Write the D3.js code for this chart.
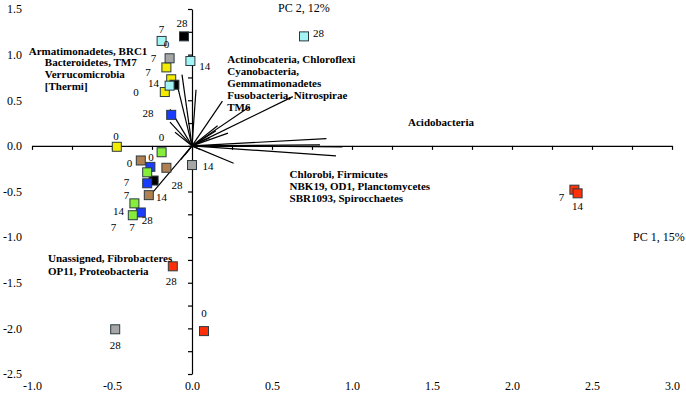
<!DOCTYPE html>
<html>
<head>
<meta charset="utf-8">
<script src="https://cdn.jsdelivr.net/npm/d3@7"></script>
<style>
  body { margin: 0; background: #fff; }
  text { font-family: "Liberation Serif", "Times New Roman", serif; }
</style>
</head>
<body>
<script>
// PCA biplot: samples (days) by treatment colour, phylum loadings as vectors

const w = 686;
const h = 397;

// axis ticks
const xTicks = [-1.0, -0.5, 0.0, 0.5, 1.0, 1.5, 2.0, 2.5, 3.0];
const yTicks = [1.5, 1.0, 0.5, 0.0, -0.5, -1.0, -1.5, -2.0, -2.5];

// sample scores per treatment [PC1, PC2]
const cyanPts   = [[-0.19, 1.15], [-0.01, 0.93], [-0.14, 0.66], [0.70, 1.20]];
const yellowPts = [[-0.16, 0.86], [-0.13, 0.73], [-0.17, 0.59], [-0.47, -0.01]];
const blackPts  = [[-0.05, 1.20], [-0.11, 0.67], [-0.24, -0.38]];
const grayPts   = [[-0.14, 0.96], [0.0, -0.21], [-0.48, -2.01]];
const brownPts  = [[-0.32, -0.16], [-0.16, -0.24], [-0.27, -0.54]];
const bluePts   = [[-0.13, 0.34], [-0.26, -0.23], [-0.28, -0.41], [-0.32, -0.73]];
const greenPts  = [[-0.19, -0.07], [-0.28, -0.29], [-0.36, -0.63], [-0.37, -0.76]];
const redPts    = [[-0.12, -1.32], [0.075, -2.03], [2.39, -0.48], [2.41, -0.52]];

// day labels [text, PC1, PC2]
const dayLabels = [
  ["28", -0.0625, 1.34], ["7", -0.19, 1.275], ["0", -0.16, 1.12],
  ["7", -0.24, 0.96], ["14", 0.08, 0.87], ["7", -0.275, 0.81],
  ["14", -0.24, 0.69], ["0", -0.35, 0.59], ["28", -0.275, 0.36],
  ["28", 0.79, 1.24], ["0", -0.475, 0.11], ["0", -0.19, 0.10],
  ["0", -0.256, -0.12], ["0", -0.39, -0.19], ["14", 0.10, -0.22],
  ["7", -0.41, -0.40], ["28", -0.094, -0.43], ["7", -0.41, -0.54],
  ["14", -0.19, -0.56], ["14", -0.46, -0.71], ["28", -0.28, -0.81],
  ["7", -0.49, -0.89], ["7", -0.375, -0.89], ["28", -0.13, -1.48],
  ["28", -0.48, -2.18], ["0", 0.075, -1.835], ["7", 2.31, -0.56],
  ["14", 2.41, -0.66]
];

// phylum loading vectors (end points)
const loadings = [
  [-0.0625, 0.78], [-0.094, 0.68], [0.025, 0.615], [-0.1375, 0.40],
  [-0.1375, 0.26], [-0.106, 0.15], [0.19, 0.49], [0.36, 0.43],
  [0.63, 0.54], [0.16, 0.22], [0.15, 0.165], [0.225, 0.14],
  [0.11, 0.09], [0.84, 0.08], [0.80, 0.01], [0.94, -0.01],
  [0.90, -0.11], [0.26, -0.19], [-0.26, -0.54], [-0.044, -0.10],
  [-0.07, -0.15], [0.05, -0.04]
];

// phylum group labels [text, PC1, PC2]
const phylaLabels = [
  ["Armatimonadetes, BRC1", -1.02, 1.00],
  ["Bacteroidetes, TM7", -0.92, 0.87],
  ["Verrucomicrobia", -0.92, 0.74],
  ["[Thermi]", -0.92, 0.61],
  ["Actinobcateria, Chloroflexi", 0.22, 0.91],
  ["Cyanobacteria,", 0.22, 0.78],
  ["Gemmatimonadetes", 0.22, 0.65],
  ["Fusobacteria, Nitrospirae", 0.22, 0.51],
  ["TM6", 0.22, 0.385],
  ["Acidobacteria", 1.35, 0.22],
  ["Chlorobi, Firmicutes", 0.61, -0.35],
  ["NBK19, OD1, Planctomycetes", 0.61, -0.485],
  ["SBR1093, Spirocchaetes", 0.61, -0.62],
  ["Unassigned, Fibrobacteres", -0.90, -1.27],
  ["OP11, Proteobacteria", -0.90, -1.415]
];

const series = [
  { pts: yellowPts, fill: "#f4ec00" },
  { pts: blackPts,  fill: "#000000" },
  { pts: grayPts,   fill: "#a6a6a6" },
  { pts: brownPts,  fill: "#b08050" },
  { pts: bluePts,   fill: "#1a3cff" },
  { pts: greenPts,  fill: "#86ee3a" },
  { pts: cyanPts,   fill: "#a3f5f5" },
  { pts: redPts,    fill: "#ff3008" }
];

const svg = d3.select("body")
  .append("svg")
  .attr("width", w)
  .attr("height", h);

const x = d3.scaleLinear().domain([-1, 3]).range([32, 672]);
const y = d3.scaleLinear().domain([-2.5, 1.5]).range([374, 9]);

const minor = d3.range(-2.5, 1.5001, 0.25);
const minorX = d3.range(-1, 3.0001, 0.25);
const fmt = d => d.toFixed(1);

// axes through the origin
svg.append("g")
  .attr("transform", `translate(0,${y(0)})`)
  .call(d3.axisBottom(x).tickValues(minorX).tickSize(4).tickSizeOuter(0).tickFormat(""))
  .call(g => g.selectAll("path, line").attr("stroke", "#000").attr("stroke-width", 1.2));

svg.append("g")
  .attr("transform", `translate(${x(0)},0)`)
  .call(d3.axisLeft(y).tickValues(minor).tickSize(4).tickSizeOuter(0).tickFormat(""))
  .call(g => g.selectAll("path, line").attr("stroke", "#000").attr("stroke-width", 1.2));

// tick labels on the outer edges
svg.append("g")
  .attr("transform", "translate(0,378)")
  .call(d3.axisBottom(x).tickValues(xTicks).tickSize(0).tickFormat(fmt))
  .call(g => g.select(".domain").remove())
  .call(g => g.selectAll("text")
    .attr("font-size", "12px")
    .attr("fill", "#000"));

svg.append("g")
  .attr("transform", "translate(22,0)")
  .call(d3.axisLeft(y).tickValues(yTicks).tickSize(0).tickPadding(0).tickFormat(fmt))
  .call(g => g.select(".domain").remove())
  .call(g => g.selectAll("text")
    .attr("font-size", "12px")
    .attr("fill", "#000"));

// loading vectors
svg.append("g")
  .selectAll("line")
  .data(loadings)
  .enter()
  .append("line")
  .attr("x1", x(0))
  .attr("y1", y(0))
  .attr("x2", d => x(d[0]))
  .attr("y2", d => y(d[1]))
  .attr("stroke", "#000")
  .attr("stroke-width", 1.2);

// sample points
series.forEach(s => {
  svg.append("g")
    .selectAll("rect")
    .data(s.pts)
    .enter()
    .append("rect")
    .attr("x", d => x(d[0]) - 4.5)
    .attr("y", d => y(d[1]) - 4.5)
    .attr("width", 9)
    .attr("height", 9)
    .attr("fill", s.fill)
    .attr("stroke", "#2b3a40")
    .attr("stroke-width", 1);
});

// day labels
svg.append("g")
  .selectAll("text")
  .data(dayLabels)
  .enter()
  .append("text")
  .attr("x", d => x(d[1]))
  .attr("y", d => y(d[2]))
  .attr("dy", "0.35em")
  .attr("text-anchor", "middle")
  .attr("font-size", "11px")
  .text(d => d[0]);

// phylum labels
svg.append("g")
  .selectAll("text")
  .data(phylaLabels)
  .enter()
  .append("text")
  .attr("x", d => x(d[1]))
  .attr("y", d => y(d[2]))
  .attr("font-size", "11px")
  .attr("font-weight", "bold")
  .text(d => d[0]);

// axis titles
svg.append("text")
  .attr("x", 278)
  .attr("y", 12)
  .attr("font-size", "12px")
  .text("PC 2, 12%");

svg.append("text")
  .attr("x", 633)
  .attr("y", 241)
  .attr("font-size", "12px")
  .text("PC 1, 15%");
</script>
</body>
</html>
